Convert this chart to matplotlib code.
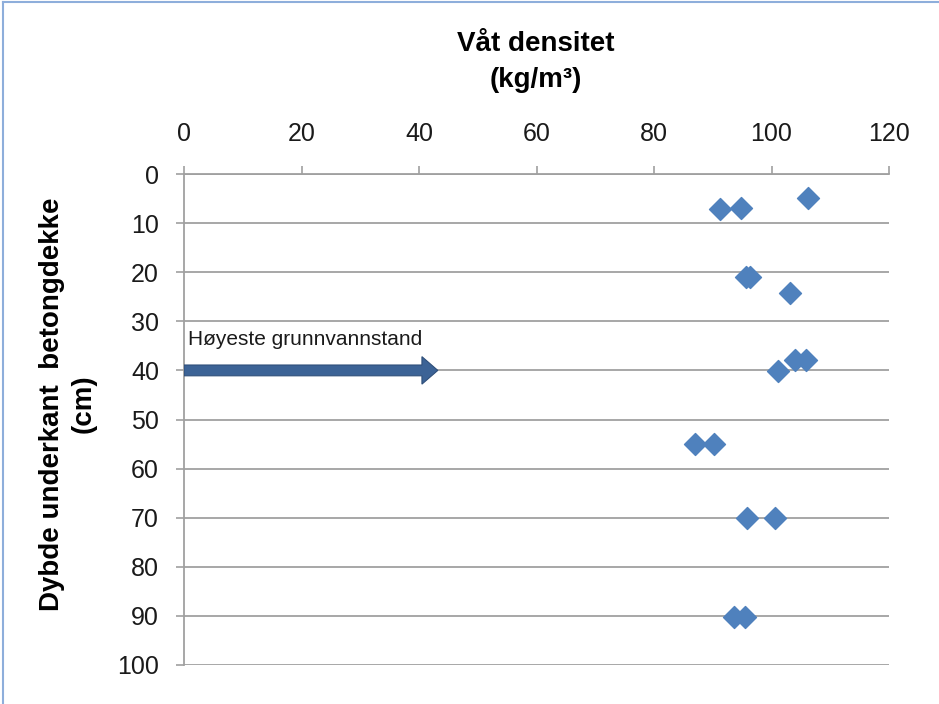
import matplotlib.pyplot as plt
from matplotlib.lines import Line2D
from matplotlib.patches import FancyArrow

# data
density = [106.2, 91.2, 94.8, 95.6, 96.4, 103.1, 104.0, 105.9, 101.1,
           87.0, 90.2, 95.8, 100.6, 93.6, 95.5]
depth = [4.9, 7.1, 7.0, 21.0, 21.0, 24.2, 37.9, 37.9, 40.1,
         54.9, 54.9, 70.0, 70.0, 90.2, 90.2]

x_ticks = [0, 20, 40, 60, 80, 100, 120]
y_ticks = [0, 10, 20, 30, 40, 50, 60, 70, 80, 90, 100]

# groundwater arrow
arrow_depth = 40
arrow_start = 0
arrow_end = 43.2
arrow_label = 'Høyeste grunnvannstand'

plt.rcParams['font.family'] = ['Liberation Sans', 'DejaVu Sans']

fig = plt.figure(figsize=(9.39, 7.04), dpi=100)
ax = fig.add_axes([184 / 939, 1 - 665 / 704, (889 - 184) / 939, (665 - 174) / 704])

grey = '#A0A0A0'
ax.set_xlim(0, 120)
ax.set_ylim(100, 0)
ax.set_xticks(x_ticks)
ax.set_yticks(y_ticks)
ax.xaxis.tick_top()
ax.tick_params(axis='both', colors=grey, labelcolor='#1a1a1a', labelsize=18,
               width=1.2, length=6)
ax.tick_params(axis='x', pad=14)
ax.tick_params(axis='y', pad=12)
for s in ['right', 'bottom']:
    ax.spines[s].set_visible(False)
for s in ['left', 'top']:
    ax.spines[s].set_color(grey)
    ax.spines[s].set_linewidth(1.3)
ax.yaxis.grid(True, color=grey, linewidth=1.3)
ax.set_axisbelow(True)

# arrow (data units; y axis is inverted)
ax.add_patch(FancyArrow(arrow_start, arrow_depth, arrow_end - arrow_start, 0,
                        width=2.2, head_width=5.6, head_length=2.7,
                        length_includes_head=True, color='#3C6396',
                        ec='#2F4F7A', lw=0.8, zorder=3))
ax.text(arrow_start + 0.6, arrow_depth - 6.3, arrow_label, fontsize=15,
        color='#1a1a1a', va='center', ha='left')

ax.scatter(density, depth, marker='D', s=125, color='#4F81BD',
           edgecolors='#4F81BD', zorder=4)

fig.text(536 / 939, 1 - 62 / 704, 'Våt densitet\n(kg/m³)', ha='center',
         va='center', fontsize=20, fontweight='bold', linespacing=1.5)
fig.text(68 / 939, 1 - 404 / 704, 'Dybde underkant  betongdekke\n(cm)',
         ha='center', va='center', rotation=90, fontsize=20,
         fontweight='bold', linespacing=1.25)

# light blue frame of the chart object
fig.add_artist(Line2D([0.003, 0.003], [0, 0.997], color='#8EAEDB', lw=1.5,
                      transform=fig.transFigure))
fig.add_artist(Line2D([0.003, 1], [0.997, 0.997], color='#8EAEDB', lw=1.5,
                      transform=fig.transFigure))

fig.savefig('out.png', dpi=100)
